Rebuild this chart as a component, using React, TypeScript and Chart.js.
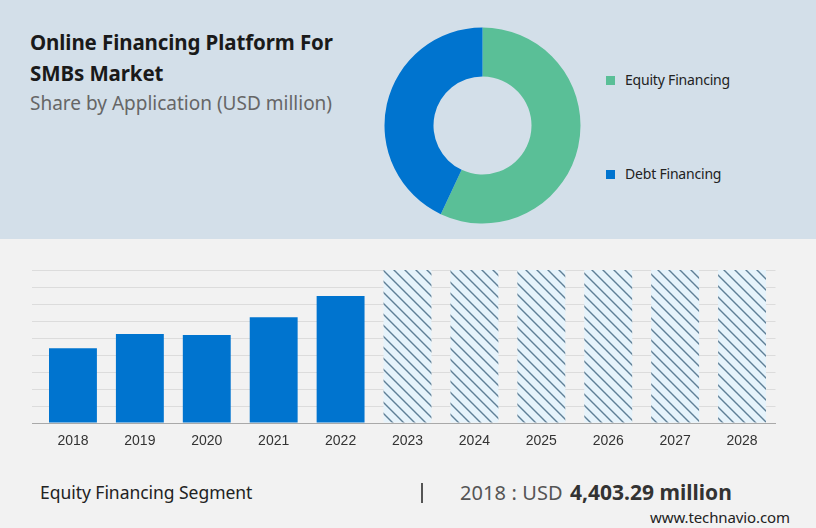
import { useEffect, useRef } from 'react';
import { Chart, registerables } from 'chart.js';

Chart.register(...registerables);

const years = ['2018', '2019', '2020', '2021', '2022', '2023', '2024', '2025', '2026', '2027', '2028'];
const actualValues = [4403.29, 5235, 5176, 6217, 7470, null, null, null, null, null, null];
const forecastValues = [null, null, null, null, null, 9000, 9000, 9000, 9000, 9000, 9000];
const shareLabels = ['Equity Financing', 'Debt Financing'];
const shareValues = [57, 43];
const shareColors = ['#5abf97', '#0074cf'];

const FONT = '"Noto Sans", sans-serif';

function hatch() {
  const c = document.createElement('canvas');
  c.width = 11;
  c.height = 11;
  const g = c.getContext('2d')!;
  g.fillStyle = '#e6f3fb';
  g.fillRect(0, 0, 11, 11);
  g.strokeStyle = '#5f7f96';
  g.lineWidth = 1.4;
  g.beginPath();
  g.moveTo(-3, -3);
  g.lineTo(14, 14);
  g.moveTo(-3, 8);
  g.lineTo(3, 14);
  g.moveTo(8, -3);
  g.lineTo(14, 3);
  g.stroke();
  return g.createPattern(c, 'repeat')!;
}

export default function App() {
  const barRef = useRef<HTMLCanvasElement>(null);
  const pieRef = useRef<HTMLCanvasElement>(null);

  useEffect(() => {
    const bar = new Chart(barRef.current!, {
      type: 'bar',
      data: {
        labels: years,
        datasets: [
          { data: actualValues, backgroundColor: '#0074cf', barPercentage: 0.716, categoryPercentage: 1 },
          { data: forecastValues, backgroundColor: hatch(), barPercentage: 0.716, categoryPercentage: 1 },
        ],
      },
      options: {
        responsive: false,
        animation: false,
        layout: { padding: { top: 20, left: 32, right: 40.5, bottom: 0 } },
        plugins: { legend: { display: false }, tooltip: { enabled: false } },
        scales: {
          x: {
            stacked: true,
            afterFit: (s: any) => { s.height = 41; },
            grid: { display: false },
            border: { color: '#a9a9a9' },
            ticks: { color: '#333333', padding: 2, font: { family: 'Liberation Sans, Arial', size: 14 } },
          },
          y: {
            stacked: true,
            min: 0,
            max: 9000,
            afterFit: (s: any) => { s.width = 7.5; },
            ticks: { display: false, stepSize: 1000 },
            border: { display: false },
            grid: {
              color: (c: any) => (c.tick.value === 0 ? '#a9a9a9' : '#dcdcdc'),
              lineWidth: 1,
              tickLength: 7.5,
            },
          },
        },
      },
    });
    const pie = new Chart(pieRef.current!, {
      type: 'doughnut',
      data: {
        labels: shareLabels,
        datasets: [{ data: shareValues, backgroundColor: shareColors, borderWidth: 0 }],
      },
      options: {
        responsive: false,
        animation: false,
        cutout: '50%',
        layout: { padding: 9.5 },
        plugins: { legend: { display: false }, tooltip: { enabled: false } },
      },
    });
    return () => {
      bar.destroy();
      pie.destroy();
    };
  }, []);

  const text = (left: number, top: number, size: number, color: string, extra = {}) => ({
    position: 'absolute' as const,
    left,
    top,
    fontSize: size,
    lineHeight: `${size + 6}px`,
    color,
    fontFamily: FONT,
    whiteSpace: 'nowrap' as const,
    ...extra,
  });

  return (
    <div style={{ position: 'absolute', left: 0, top: 0, width: 816, height: 528, background: '#f2f2f2', overflow: 'hidden' }}>
      <div style={{ position: 'absolute', left: 0, top: 0, width: 816, height: 239, background: '#d3dfe9' }} />
      <div style={text(30, 29, 20.5, '#1a1a1a', { fontWeight: 700, letterSpacing: -0.1 })}>Online Financing Platform For</div>
      <div style={text(30, 60, 20.5, '#1a1a1a', { fontWeight: 700, letterSpacing: -0.1 })}>SMBs Market</div>
      <div style={text(30, 91, 19, '#666666')}>Share by Application (USD million)</div>
      <canvas ref={pieRef} width={215} height={215} style={{ position: 'absolute', left: 375, top: 18 }} />
      {shareLabels.map((l, i) => (
        <div key={l}>
          <div style={{ position: 'absolute', left: 606, top: i === 0 ? 76 : 170, width: 9, height: 9, background: shareColors[i] }} />
          <div style={text(625, i === 0 ? 70 : 164, 14, '#222222', { letterSpacing: -0.2 })}>{l}</div>
        </div>
      ))}
      <canvas ref={barRef} width={816} height={214} style={{ position: 'absolute', left: 0, top: 250 }} />
      <div style={text(40, 481, 17.5, '#222222', { letterSpacing: -0.04 })}>Equity Financing Segment</div>
      <div style={{ position: 'absolute', left: 421, top: 483, width: 2, height: 20, background: '#555555' }} />
      <div style={text(460, 479, 20, '#555555', { letterSpacing: 0.1 })}>
        2018 : USD{' '}
        <b style={{ color: '#333333', fontSize: 21, letterSpacing: 0, marginLeft: 2 }}>4,403.29 million</b>
      </div>
      <div style={text(650, 507, 15, '#222222', { letterSpacing: -0.1 })}>www.technavio.com</div>
    </div>
  );
}
